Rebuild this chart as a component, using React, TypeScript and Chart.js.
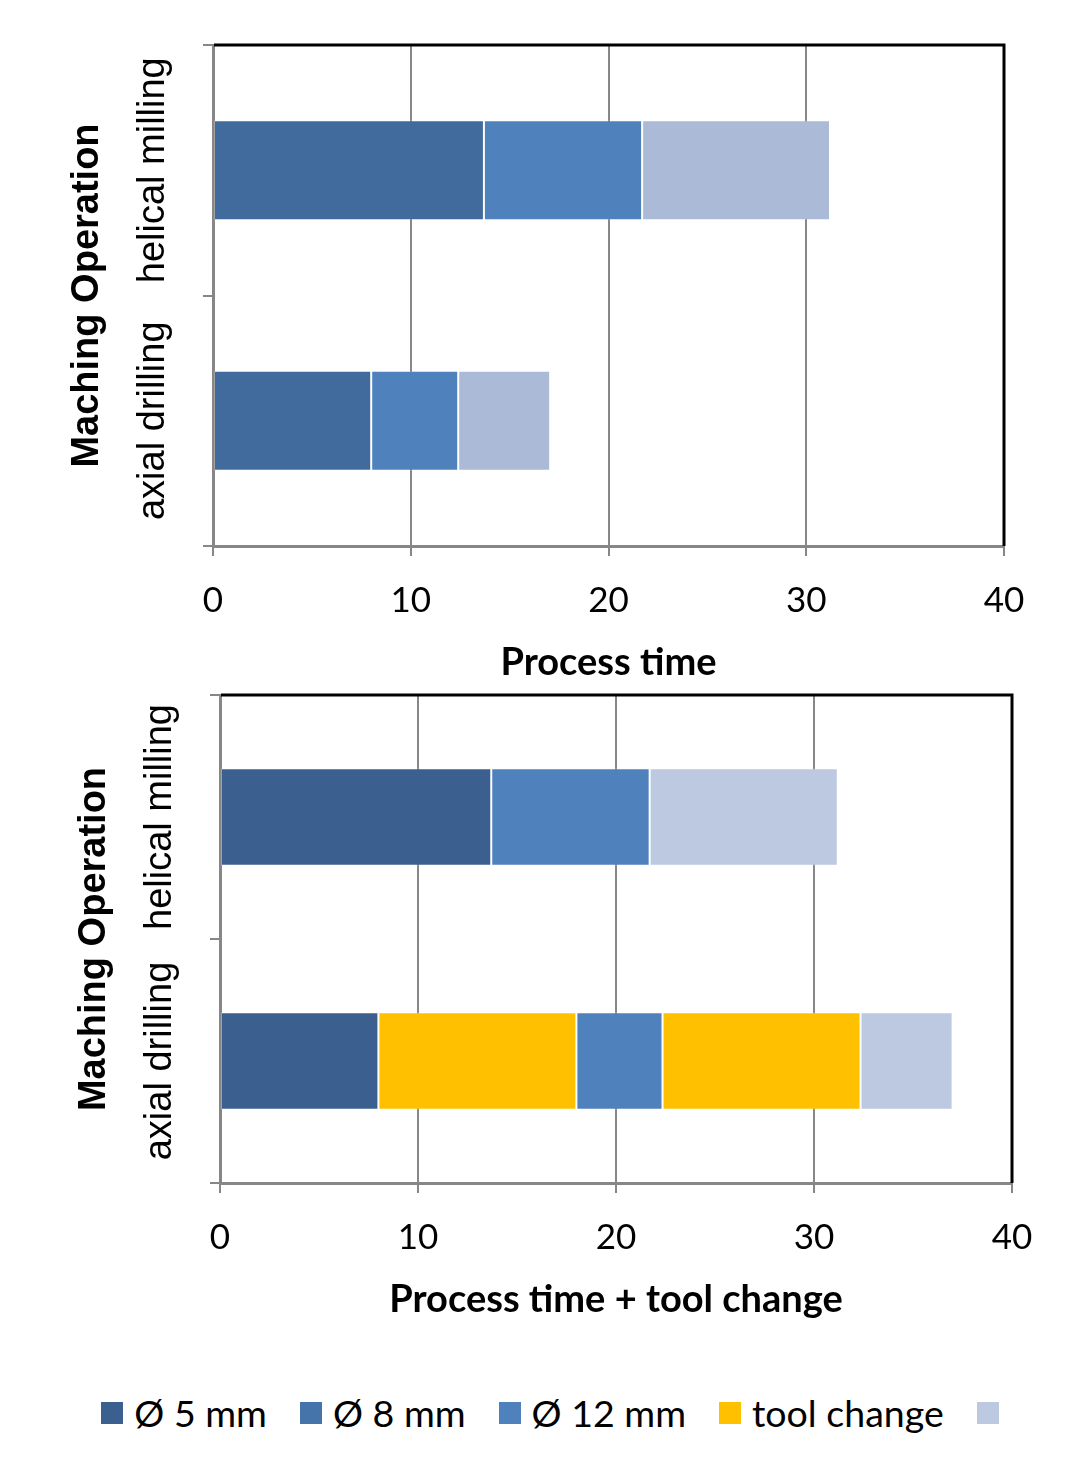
import React, { useEffect, useRef } from "react";
import { Chart, registerables, Plugin } from "chart.js";

Chart.register(...registerables);

const OPERATIONS = ["helical milling", "axial drilling"];

// process time only (minutes)
const TOP_D5 = [13.7, 8.0];
const TOP_D8 = [8.0, 4.4];
const TOP_D12 = [9.5, 4.65];

// process time + tool change
const BOT_D5 = [13.7, 8.0];
const BOT_CHANGE_1 = [0, 10.0];
const BOT_D8 = [8.0, 4.35];
const BOT_CHANGE_2 = [0, 10.0];
const BOT_D12 = [9.5, 4.65];

const X_MIN = 0;
const X_MAX = 40;
const X_STEP = 10;

const LEGEND_LABELS = ["Ø 5 mm", "Ø 8 mm", "Ø 12 mm", "tool change", ""];
const LEGEND_COLORS = ["#3B5F8E", "#4574AA", "#4F81BD", "#FFC000", "#BDC9E1"];

const CALIBRI = "Lato, 'Open Sans', sans-serif";
const ARIAL = "'Liberation Sans', Arial, sans-serif";
const GRID = "#878787";

interface Series {
  label: string;
  data: number[];
  color: string;
}

// black top/right frame + rotated category labels
const framePlugin: Plugin = {
  id: "frame",
  afterDraw(chart) {
    const { ctx, chartArea: a } = chart;
    const y = chart.scales.y;
    ctx.save();
    ctx.strokeStyle = "#000";
    ctx.lineWidth = 3;
    ctx.beginPath();
    ctx.moveTo(a.left + 1, a.top);
    ctx.lineTo(a.right, a.top);
    ctx.lineTo(a.right, a.bottom);
    ctx.stroke();

    ctx.fillStyle = "#000";
    ctx.font = `38px ${ARIAL}`;
    ctx.textAlign = "center";
    ctx.textBaseline = "middle";
    y.ticks.forEach((t, i) => {
      ctx.save();
      ctx.translate(a.left - 59, y.getPixelForTick(i));
      ctx.rotate(-Math.PI / 2);
      ctx.fillText(String(y.getLabelForValue(t.value)), 0, 0);
      ctx.restore();
    });
    ctx.restore();
  },
};

function StackedBars(props: {
  series: Series[];
  xTitle: string;
  padLeft: number;
  padRight: number;
}) {
  const { series, xTitle, padLeft, padRight } = props;
  const canvas = useRef<HTMLCanvasElement>(null);

  useEffect(() => {
    const ctx = canvas.current!.getContext("2d");
    if (!ctx) return;
    const chart = new Chart(ctx, {
      type: "bar",
      data: {
        labels: OPERATIONS,
        datasets: series.map((s) => ({
          label: s.label,
          data: s.data,
          backgroundColor: s.color,
          borderColor: "rgba(255,255,255,0.22)",
          borderWidth: 1,
          borderSkipped: false,
          categoryPercentage: 1,
          barPercentage: 0.4,
        })),
      },
      options: {
        indexAxis: "y",
        animation: false,
        responsive: true,
        maintainAspectRatio: false,
        layout: { padding: { left: padLeft, right: padRight, top: 45, bottom: 0 } },
        plugins: { legend: { display: false }, tooltip: { enabled: false } },
        scales: {
          x: {
            stacked: true,
            min: X_MIN,
            max: X_MAX,
            ticks: {
              stepSize: X_STEP,
              color: "#000",
              font: { family: CALIBRI, size: 35 },
              padding: 24,
            },
            grid: { color: GRID, lineWidth: 2, tickLength: 10 },
            border: { color: GRID, width: 3 },
            title: {
              display: true,
              text: xTitle,
              color: "#000",
              font: { family: CALIBRI, size: 38, weight: "bold" },
              padding: { top: 0, bottom: 4 },
            },
            afterFit: (s) => {
              s.height = 144;
            },
          },
          y: {
            stacked: true,
            ticks: { display: false },
            grid: {
              offset: true,
              drawOnChartArea: false,
              color: GRID,
              lineWidth: 2,
              tickLength: 10,
            },
            border: { color: GRID, width: 3 },
            title: {
              display: true,
              text: "Maching Operation",
              color: "#000",
              font: { family: ARIAL, size: 38, weight: "bold" },
              padding: { top: 5, bottom: 0 },
            },
            afterFit: (s) => {
              s.width = 153;
            },
          },
        },
      },
      plugins: [framePlugin],
    });
    return () => {
      chart.destroy();
    };
  }, []);

  return <canvas ref={canvas} />;
}

export default function App() {
  useEffect(() => {
    document.body.style.margin = "0";
  }, []);

  const topSeries: Series[] = [
    { label: "Ø 5 mm", data: TOP_D5, color: "#416B9C" },
    { label: "Ø 8 mm", data: TOP_D8, color: "#4F81BD" },
    { label: "Ø 12 mm", data: TOP_D12, color: "#AABAD7" },
  ];
  const botSeries: Series[] = [
    { label: "Ø 5 mm", data: BOT_D5, color: "#3B5F8E" },
    { label: "tool change", data: BOT_CHANGE_1, color: "#FFC000" },
    { label: "Ø 8 mm", data: BOT_D8, color: "#4F81BD" },
    { label: "tool change", data: BOT_CHANGE_2, color: "#FFC000" },
    { label: "Ø 12 mm", data: BOT_D12, color: "#BDC9E1" },
  ];

  return (
    <div style={{ position: "relative", width: 1088, height: 1477, background: "#fff" }}>
      <div style={{ position: "absolute", left: 0, top: 0, width: 1088, height: 690 }}>
        <StackedBars series={topSeries} xTitle="Process time" padLeft={60} padRight={84} />
      </div>
      <div style={{ position: "absolute", left: 0, top: 650, width: 1088, height: 677 }}>
        <StackedBars
          series={botSeries}
          xTitle="Process time + tool change"
          padLeft={67}
          padRight={76}
        />
      </div>
      <div
        style={{
          position: "absolute",
          left: 6,
          top: 1396,
          width: 1088,
          height: 34,
          display: "flex",
          justifyContent: "center",
          alignItems: "center",
          gap: 33,
          fontFamily: CALIBRI,
          fontSize: 37.5,
          color: "#000",
        }}
      >
        {LEGEND_LABELS.map((label, i) => (
          <div key={i} style={{ display: "flex", alignItems: "center", gap: 11 }}>
            <span
              style={{ width: 22, height: 22, background: LEGEND_COLORS[i], display: "inline-block" }}
            />
            {label && <span style={{ lineHeight: "34px" }}>{label}</span>}
          </div>
        ))}
      </div>
    </div>
  );
}
